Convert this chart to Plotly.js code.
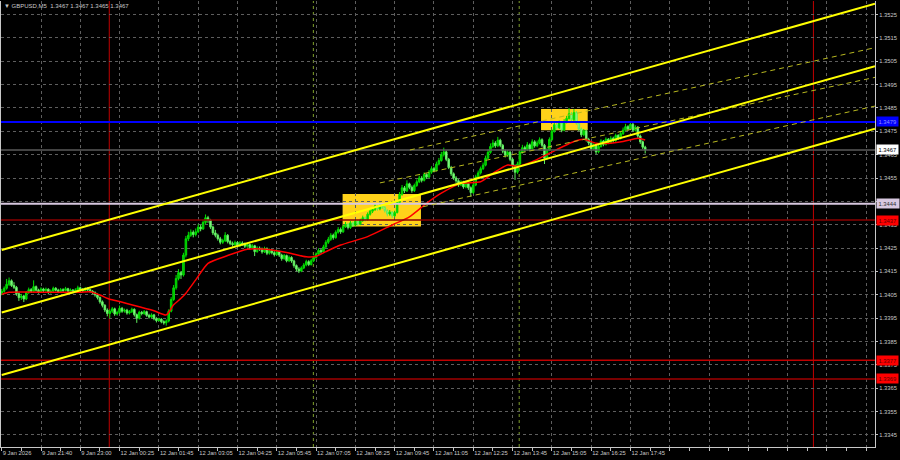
<!DOCTYPE html>
<html>
<head>
<meta charset="utf-8">
<script src="https://cdn.plot.ly/plotly-3.0.1.min.js"></script>
<style>
html,body{margin:0;padding:0;background:#000;}
#chart{width:900px;height:460px;}
</style>
</head>
<body>
<div id="chart"></div>
<script>
// ---- data: GBPUSD M5 bars (index 0 = first bar on screen) ----
const opens = [
1.34058,1.34065,1.34078,1.34095,1.34110,1.34090,1.34082,1.34055,1.34038,1.34045,
1.34032,1.34060,1.34072,1.34065,1.34085,1.34070,1.34062,1.34075,1.34068,1.34074,
1.34060,1.34066,1.34078,1.34070,1.34064,1.34072,1.34069,1.34076,1.34065,1.34070,
1.34063,1.34071,1.34080,1.34073,1.34068,1.34076,1.34072,1.34065,1.34060,1.34050,
1.34038,1.34020,1.34005,1.33985,1.33970,1.33980,1.33990,1.33968,1.33975,1.33992,
1.33980,1.33984,1.33972,1.33978,1.33988,1.33965,1.33950,1.33975,1.33970,1.33978,
1.33962,1.33955,1.33964,1.33948,1.33940,1.33946,1.33935,1.33930,1.33938,1.33980,
1.34030,1.34080,1.34120,1.34145,1.34135,1.34220,1.34290,1.34305,1.34318,1.34308,
1.34320,1.34340,1.34332,1.34360,1.34380,1.34370,1.34340,1.34315,1.34305,1.34290,
1.34275,1.34282,1.34305,1.34278,1.34270,1.34265,1.34274,1.34260,1.34272,1.34268,
1.34258,1.34265,1.34252,1.34260,1.34235,1.34250,1.34246,1.34234,1.34248,1.34228,
1.34240,1.34230,1.34222,1.34235,1.34220,1.34205,1.34218,1.34196,1.34210,1.34195,
1.34175,1.34160,1.34152,1.34165,1.34178,1.34192,1.34180,1.34196,1.34210,1.34225,
1.34240,1.34234,1.34255,1.34275,1.34288,1.34305,1.34295,1.34318,1.34330,1.34320,
1.34342,1.34352,1.34338,1.34358,1.34348,1.34365,1.34352,1.34368,1.34380,1.34372,
1.34395,1.34408,1.34415,1.34430,1.34418,1.34436,1.34424,1.34410,1.34396,1.34404,
1.34388,1.34402,1.34445,1.34480,1.34508,1.34495,1.34525,1.34510,1.34496,1.34518,
1.34534,1.34550,1.34540,1.34565,1.34554,1.34575,1.34590,1.34582,1.34610,1.34625,
1.34650,1.34662,1.34630,1.34595,1.34568,1.34550,1.34538,1.34520,1.34532,1.34512,
1.34526,1.34508,1.34488,1.34520,1.34555,1.34572,1.34590,1.34605,1.34635,1.34660,
1.34685,1.34700,1.34688,1.34712,1.34690,1.34665,1.34648,1.34660,1.34630,1.34602,
1.34575,1.34610,1.34660,1.34680,1.34672,1.34692,1.34675,1.34705,1.34688,1.34700,
1.34714,1.34690,1.34635,1.34670,1.34715,1.34750,1.34778,1.34765,1.34785,1.34755,
1.34790,1.34805,1.34825,1.34800,1.34830,1.34785,1.34760,1.34735,1.34752,1.34715,
1.34700,1.34675,1.34690,1.34662,1.34685,1.34708,1.34694,1.34716,1.34702,1.34720,
1.34710,1.34732,1.34720,1.34740,1.34755,1.34770,1.34760,1.34780,1.34755,1.34768,
1.34730,1.34705,1.34682
];
const highs = [
1.34075,1.34086,1.34118,1.34124,1.34116,1.34104,1.34088,1.34060,1.34054,1.34050,
1.34066,1.34081,1.34079,1.34112,1.34090,1.34076,1.34082,1.34080,1.34081,1.34078,
1.34073,1.34085,1.34083,1.34076,1.34079,1.34078,1.34084,1.34080,1.34077,1.34075,
1.34078,1.34089,1.34085,1.34079,1.34083,1.34082,1.34076,1.34070,1.34065,1.34056,
1.34043,1.34026,1.34010,1.33992,1.33988,1.33998,1.33995,1.33982,1.34004,1.33998,
1.33991,1.33990,1.33985,1.33995,1.33992,1.33970,1.33982,1.33981,1.33985,1.33982,
1.33969,1.33971,1.33968,1.33954,1.33952,1.33950,1.33941,1.33945,1.33988,1.34040,
1.34092,1.34135,1.34160,1.34152,1.34230,1.34302,1.34320,1.34330,1.34326,1.34334,
1.34352,1.34350,1.34372,1.34394,1.34388,1.34375,1.34346,1.34328,1.34312,1.34298,
1.34290,1.34318,1.34310,1.34285,1.34278,1.34282,1.34280,1.34280,1.34279,1.34274,
1.34273,1.34270,1.34268,1.34264,1.34258,1.34257,1.34252,1.34256,1.34253,1.34248,
1.34246,1.34237,1.34243,1.34239,1.34226,1.34225,1.34222,1.34218,1.34215,1.34200,
1.34180,1.34168,1.34172,1.34186,1.34200,1.34198,1.34204,1.34218,1.34232,1.34249,
1.34248,1.34264,1.34284,1.34298,1.34314,1.34312,1.34326,1.34340,1.34338,1.34350,
1.34362,1.34358,1.34366,1.34364,1.34374,1.34370,1.34376,1.34389,1.34386,1.34403,
1.34416,1.34425,1.34442,1.34436,1.34445,1.34441,1.34430,1.34416,1.34413,1.34409,
1.34410,1.34454,1.34490,1.34520,1.34516,1.34540,1.34530,1.34518,1.34526,1.34544,
1.34560,1.34558,1.34574,1.34570,1.34584,1.34600,1.34598,1.34620,1.34636,1.34662,
1.34680,1.34668,1.34636,1.34602,1.34574,1.34558,1.34545,1.34540,1.34538,1.34534,
1.34530,1.34514,1.34528,1.34564,1.34582,1.34599,1.34616,1.34646,1.34672,1.34698,
1.34714,1.34708,1.34726,1.34718,1.34696,1.34672,1.34669,1.34666,1.34636,1.34608,
1.34620,1.34670,1.34692,1.34688,1.34704,1.34698,1.34716,1.34712,1.34710,1.34724,
1.34720,1.34696,1.34678,1.34724,1.34760,1.34790,1.34786,1.34796,1.34790,1.34802,
1.34816,1.34850,1.34832,1.34845,1.34836,1.34792,1.34766,1.34760,1.34758,1.34722,
1.34706,1.34698,1.34695,1.34693,1.34716,1.34713,1.34724,1.34721,1.34729,1.34727,
1.34740,1.34738,1.34749,1.34766,1.34782,1.34776,1.34792,1.34786,1.34776,1.34772,
1.34736,1.34710,1.34688
];
const lows = [
1.34048,1.34059,1.34072,1.34088,1.34084,1.34075,1.34046,1.34024,1.34028,1.34019,
1.34027,1.34054,1.34058,1.34060,1.34064,1.34055,1.34058,1.34061,1.34063,1.34052,
1.34055,1.34062,1.34065,1.34057,1.34060,1.34062,1.34065,1.34060,1.34061,1.34056,
1.34059,1.34068,1.34069,1.34062,1.34064,1.34066,1.34059,1.34053,1.34042,1.34030,
1.34012,1.33996,1.33976,1.33958,1.33950,1.33972,1.33960,1.33961,1.33970,1.33973,
1.33974,1.33965,1.33966,1.33972,1.33957,1.33930,1.33944,1.33962,1.33964,1.33956,
1.33948,1.33950,1.33941,1.33932,1.33935,1.33928,1.33922,1.33918,1.33932,1.33975,
1.34024,1.34072,1.34112,1.34118,1.34128,1.34210,1.34280,1.34298,1.34296,1.34300,
1.34314,1.34322,1.34328,1.34352,1.34358,1.34332,1.34306,1.34296,1.34282,1.34266,
1.34268,1.34276,1.34270,1.34262,1.34256,1.34259,1.34253,1.34255,1.34260,1.34250,
1.34251,1.34244,1.34246,1.34216,1.34230,1.34238,1.34226,1.34229,1.34220,1.34222,
1.34223,1.34214,1.34217,1.34212,1.34196,1.34200,1.34189,1.34190,1.34187,1.34166,
1.34150,1.34143,1.34147,1.34160,1.34172,1.34173,1.34175,1.34190,1.34204,1.34219,
1.34226,1.34230,1.34250,1.34268,1.34281,1.34286,1.34290,1.34312,1.34311,1.34315,
1.34336,1.34330,1.34332,1.34340,1.34342,1.34345,1.34348,1.34362,1.34364,1.34368,
1.34389,1.34400,1.34409,1.34410,1.34412,1.34417,1.34402,1.34386,1.34389,1.34378,
1.34382,1.34398,1.34438,1.34474,1.34486,1.34490,1.34502,1.34487,1.34490,1.34512,
1.34528,1.34531,1.34535,1.34546,1.34549,1.34568,1.34574,1.34578,1.34604,1.34620,
1.34642,1.34622,1.34588,1.34559,1.34542,1.34529,1.34512,1.34515,1.34504,1.34506,
1.34499,1.34470,1.34482,1.34515,1.34549,1.34565,1.34584,1.34600,1.34630,1.34654,
1.34678,1.34679,1.34682,1.34682,1.34656,1.34638,1.34640,1.34622,1.34592,1.34542,
1.34568,1.34604,1.34654,1.34662,1.34666,1.34665,1.34670,1.34680,1.34682,1.34694,
1.34682,1.34610,1.34628,1.34665,1.34709,1.34744,1.34756,1.34759,1.34746,1.34750,
1.34784,1.34800,1.34792,1.34794,1.34778,1.34750,1.34726,1.34729,1.34706,1.34690,
1.34666,1.34669,1.34652,1.34656,1.34680,1.34686,1.34689,1.34695,1.34697,1.34702,
1.34705,1.34713,1.34715,1.34734,1.34750,1.34752,1.34755,1.34748,1.34749,1.34722,
1.34696,1.34674,1.34655
];
const closes = [
1.34065,1.34078,1.34095,1.34110,1.34090,1.34082,1.34055,1.34038,1.34045,1.34032,
1.34060,1.34072,1.34065,1.34085,1.34070,1.34062,1.34075,1.34068,1.34074,1.34060,
1.34066,1.34078,1.34070,1.34064,1.34072,1.34069,1.34076,1.34065,1.34070,1.34063,
1.34071,1.34080,1.34073,1.34068,1.34076,1.34072,1.34065,1.34060,1.34050,1.34038,
1.34020,1.34005,1.33985,1.33970,1.33980,1.33990,1.33968,1.33975,1.33992,1.33980,
1.33984,1.33972,1.33978,1.33988,1.33965,1.33950,1.33975,1.33970,1.33978,1.33962,
1.33955,1.33964,1.33948,1.33940,1.33946,1.33935,1.33930,1.33938,1.33980,1.34030,
1.34080,1.34120,1.34145,1.34135,1.34220,1.34290,1.34305,1.34318,1.34308,1.34320,
1.34340,1.34332,1.34360,1.34380,1.34370,1.34340,1.34315,1.34305,1.34290,1.34275,
1.34282,1.34305,1.34278,1.34270,1.34265,1.34274,1.34260,1.34272,1.34268,1.34258,
1.34265,1.34252,1.34260,1.34235,1.34250,1.34246,1.34234,1.34248,1.34228,1.34240,
1.34230,1.34222,1.34235,1.34220,1.34205,1.34218,1.34196,1.34210,1.34195,1.34175,
1.34160,1.34152,1.34165,1.34178,1.34192,1.34180,1.34196,1.34210,1.34225,1.34240,
1.34234,1.34255,1.34275,1.34288,1.34305,1.34295,1.34318,1.34330,1.34320,1.34342,
1.34352,1.34338,1.34358,1.34348,1.34365,1.34352,1.34368,1.34380,1.34372,1.34395,
1.34408,1.34415,1.34430,1.34418,1.34436,1.34424,1.34410,1.34396,1.34404,1.34388,
1.34402,1.34445,1.34480,1.34508,1.34495,1.34525,1.34510,1.34496,1.34518,1.34534,
1.34550,1.34540,1.34565,1.34554,1.34575,1.34590,1.34582,1.34610,1.34625,1.34650,
1.34662,1.34630,1.34595,1.34568,1.34550,1.34538,1.34520,1.34532,1.34512,1.34526,
1.34508,1.34488,1.34520,1.34555,1.34572,1.34590,1.34605,1.34635,1.34660,1.34685,
1.34700,1.34688,1.34712,1.34690,1.34665,1.34648,1.34660,1.34630,1.34602,1.34575,
1.34610,1.34660,1.34680,1.34672,1.34692,1.34675,1.34705,1.34688,1.34700,1.34714,
1.34690,1.34635,1.34670,1.34715,1.34750,1.34778,1.34765,1.34785,1.34755,1.34790,
1.34805,1.34825,1.34800,1.34830,1.34785,1.34760,1.34735,1.34752,1.34715,1.34700,
1.34675,1.34690,1.34662,1.34685,1.34708,1.34694,1.34716,1.34702,1.34720,1.34710,
1.34732,1.34720,1.34740,1.34755,1.34770,1.34760,1.34780,1.34755,1.34768,1.34730,
1.34705,1.34682,1.34670
];

// moving average (red line), read at selected bars
const maBars   = [0, 3, 20, 32, 36, 40, 44, 48, 56, 62, 67, 70, 73, 75, 79, 84, 92, 100, 108, 117, 124, 128, 132, 138, 149, 159, 166, 173, 179, 187, 195, 200, 206, 210, 216, 223, 233, 237, 242, 248, 253, 259, 262];
const maPrices = [1.34052,1.34061,1.34061,1.34061,1.34063,1.34049,1.34031,1.34021,1.33999,1.33982,1.33964,1.34007,1.34035,1.34057,1.34114,1.34185,1.34218,1.34245,1.34245,1.34229,1.34213,1.34215,1.34235,1.34263,1.34299,1.34349,1.34384,1.34442,1.34485,1.34527,1.34534,1.34570,1.34606,1.34600,1.34620,1.34656,1.34706,1.34716,1.34699,1.34699,1.34706,1.34720,1.34713];

// x-axis tick labels (every 16 bars)
const xTickBars = [0,16,32,48,64,80,96,112,128,144,160,176,192,208,224,240,256,272,288,304,320,336,352];
const xTickLabels = ["9 Jan 2026","9 Jan 21:40","9 Jan 23:00","12 Jan 00:25","12 Jan 01:45","12 Jan 03:05","12 Jan 04:25","12 Jan 05:45","12 Jan 07:05","12 Jan 08:25","12 Jan 09:45","12 Jan 11:05","12 Jan 12:25","12 Jan 13:45","12 Jan 15:05","12 Jan 16:25","12 Jan 17:45","","","","","",""];
const xMinorBars = [8,24,40,56,72,88,104,120,136,152,168,184,200,216,232,248,264,280,296,312,328,344];

// horizontal price levels
const levelPrices = [1.3479, 1.3467, 1.3444, 1.3437, 1.3377, 1.3369];
const levelLabels = ["1.3479", "1.3467", "1.3444", "1.3437", "1.3377", "1.3369"];

// trend channel (solid yellow), endpoints at bars [0, 355.57]
const channelBars  = [0, 355.57];
const channelUpper = [1.34242, 1.35296];
const channelMid   = [1.33974, 1.35029];
const channelLower = [1.33707, 1.34761];

// inner dashed channel
const dashBarsStart  = [166.2, 154.0, 171.5];
const dashBarsEnd    = [355.57, 355.57, 355.57];
const dashPriceStart = [1.34670, 1.34529, 1.34427];
const dashPriceEnd   = [1.35108, 1.34981, 1.34858];

// yellow zones
const boxBarsStart = [138.8, 219.6];
const boxBarsEnd   = [170.7, 238.6];
const boxLow       = [1.34342, 1.34754];
const boxHigh      = [1.34482, 1.34845];

// day separators / session markers (bar positions)
const daySeparatorBars = [43.8, 330.5];
const sessionBars = [126.9, 210.7];

// ---- build ----
const barIdx = closes.map((_, i) => i);
const FONT = 'Liberation Sans, Arial, sans-serif';
const TXT = '#c8c8c8';

const traces = [
  {
    type: 'candlestick',
    x: barIdx, open: opens, high: highs, low: lows, close: closes,
    increasing: {line: {color: '#00e000', width: 1}, fillcolor: '#00b400'},
    decreasing: {line: {color: '#5ef05e', width: 1}, fillcolor: '#9cf59c'},
    whiskerwidth: 0,
    hoverinfo: 'skip',
    showlegend: false
  },
  {
    type: 'scatter', mode: 'lines',
    x: maBars, y: maPrices,
    line: {color: '#ff0000', width: 1.5, shape: 'spline', smoothing: 0.6},
    hoverinfo: 'skip', showlegend: false
  }
];

const shapes = [];
// zones (background)
for (let k = 0; k < boxBarsStart.length; k++) {
  shapes.push({type: 'rect', xref: 'x', yref: 'y', layer: 'below',
    x0: boxBarsStart[k], x1: boxBarsEnd[k], y0: boxLow[k], y1: boxHigh[k],
    fillcolor: '#ffd21a', line: {width: 0}});
}
// separators
daySeparatorBars.forEach(b => shapes.push({type: 'line', xref: 'x', yref: 'paper', layer: 'between',
  x0: b, x1: b, y0: 0, y1: 1, line: {color: '#c00000', width: 1}}));
sessionBars.forEach(b => shapes.push({type: 'line', xref: 'x', yref: 'paper', layer: 'between',
  x0: b, x1: b, y0: 0, y1: 1, line: {color: '#7f9f2a', width: 1, dash: '3px,3px'}}));
// levels
const levelStyles = [
  {color: '#0000ff', width: 2},
  {color: '#5a5a5a', width: 1.5},
  {color: '#d8c8e0', width: 2},
  {color: '#8b0000', width: 1.5},
  {color: '#c00000', width: 1.5},
  {color: '#a00000', width: 1.5}
];
levelPrices.forEach((p, k) => shapes.push({type: 'line', xref: 'paper', yref: 'y', layer: 'above',
  x0: 0, x1: 1, y0: p, y1: p, line: levelStyles[k]}));
// dashed inner channel
for (let k = 0; k < dashBarsStart.length; k++) {
  shapes.push({type: 'line', xref: 'x', yref: 'y', layer: 'above',
    x0: dashBarsStart[k], x1: dashBarsEnd[k], y0: dashPriceStart[k], y1: dashPriceEnd[k],
    line: {color: '#b8b820', width: 1, dash: '5px,4px'}});
}
// solid channel
[channelUpper, channelMid, channelLower].forEach(ch => shapes.push({type: 'line', xref: 'x', yref: 'y', layer: 'above',
  x0: channelBars[0], x1: channelBars[1], y0: ch[0], y1: ch[1],
  line: {color: '#ffff00', width: 2}}));

// price labels on right axis
const labelBg = ['#0000ff', '#ffffff', '#d8c8e0', '#ff0000', '#ff0000', '#ff0000'];
const labelFg = ['#9090ff', '#000000', '#303030', '#600000', '#600000', '#600000'];
const annotations = levelPrices.map((p, k) => ({
  xref: 'paper', yref: 'y', x: 1, y: p, xanchor: 'left', yanchor: 'middle', xshift: 1,
  text: levelLabels[k], showarrow: false, bgcolor: labelBg[k], borderpad: 1.5,
  font: {family: FONT, size: 5.8, color: labelFg[k]}
}));

const layout = {
  width: 900, height: 460,
  margin: {l: 1, r: 25, t: 1, b: 13, pad: 0},
  paper_bgcolor: '#000000', plot_bgcolor: '#000000',
  showlegend: false,
  boxgap: 0.1,
  title: {text: '\u25BC GBPUSD,M5  1.3467 1.3467 1.3465 1.3467', x: 4/900, xanchor: 'left',
          y: 1 - 6/460, yanchor: 'middle', font: {family: FONT, size: 6, color: TXT}},
  xaxis: {
    range: [-0.285, 355.57], tickmode: 'array', tickvals: xTickBars, ticktext: xTickLabels,
    tickangle: 0, automargin: false,
    ticks: 'outside', ticklen: 3, tickcolor: '#c0c0c0', ticklabelposition: 'outside right',
    ticklabelstandoff: 0,
    tickfont: {family: FONT, size: 5.8, color: TXT},
    showgrid: true, gridcolor: '#5e5e5e', griddash: '3px,3px', gridwidth: 1,
    showline: true, linecolor: '#c8c8c8', linewidth: 1, mirror: false, zeroline: false,
    minor: {tickmode: 'array', tickvals: xMinorBars, ticks: 'outside', ticklen: 3, tickcolor: '#c0c0c0', showgrid: false},
    rangeslider: {visible: false}, fixedrange: true
  },
  yaxis: {
    side: 'right', range: [1.333985, 1.353078], tickmode: 'linear', tick0: 1.3345, dtick: 0.001,
    tickformat: '.4f', ticks: 'outside', ticklen: 2, tickcolor: '#c0c0c0', automargin: false,
    tickfont: {family: FONT, size: 5.8, color: TXT},
    showgrid: true, gridcolor: '#5e5e5e', griddash: '3px,3px', gridwidth: 1,
    showline: true, linecolor: '#c8c8c8', linewidth: 1, mirror: true, zeroline: false,
    fixedrange: true
  },
  shapes: shapes,
  annotations: annotations
};

Plotly.newPlot('chart', traces, layout, {displayModeBar: false, staticPlot: true});
</script>
</body>
</html>
